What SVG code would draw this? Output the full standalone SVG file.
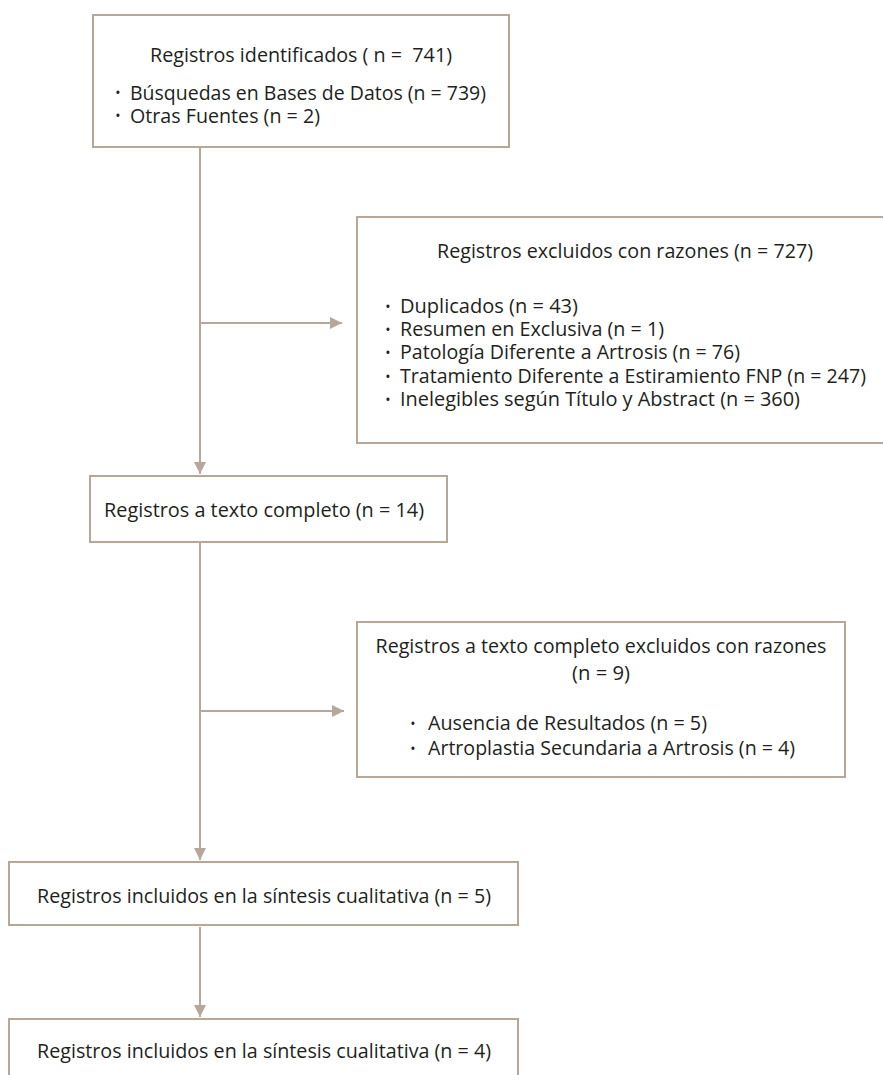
<svg xmlns="http://www.w3.org/2000/svg" width="883" height="1075" viewBox="0 0 883 1075">
  <style>
    .box { fill: #ffffff; stroke: #b8a699; stroke-width: 2; }
    .conn { fill: none; stroke: #b8a699; stroke-width: 2; }
    .t { font-family: "Open Sans", "Liberation Sans", sans-serif; font-size: 20.5px; fill: #231f20; }
    .c { text-anchor: middle; }
    .b { font-family: "Open Sans", "Liberation Sans", sans-serif; font-size: 14px; fill: #231f20; text-anchor: middle; }
  </style>
  <defs>
    <marker id="arrow" markerUnits="userSpaceOnUse" markerWidth="12" markerHeight="12" viewBox="0 0 12 12" refX="12" refY="6" orient="auto">
      <path d="M0,0 L12,6 L0,12 Z" fill="#b8a699"/>
    </marker>
  </defs>
  <rect x="0" y="0" width="883" height="1075" fill="#ffffff"/>

  <g id="connectors">
    <line class="conn" x1="200" y1="147" x2="200" y2="474" marker-end="url(#arrow)"/>
    <line class="conn" x1="200" y1="323" x2="342" y2="323" marker-end="url(#arrow)"/>
    <line class="conn" x1="200" y1="542" x2="200" y2="860" marker-end="url(#arrow)"/>
    <line class="conn" x1="200" y1="711" x2="344" y2="711" marker-end="url(#arrow)"/>
    <line class="conn" x1="200" y1="927" x2="200" y2="1017" marker-end="url(#arrow)"/>
  </g>

  <g id="identificados">
    <rect class="box" x="93" y="15" width="416" height="132"/>
    <text class="t c" x="301" y="62" xml:space="preserve" textLength="302" lengthAdjust="spacingAndGlyphs">Registros identificados ( n =  741)</text>
    <text class="b" x="118" y="98">•</text>
    <text class="t" x="130" y="99.5" textLength="356" lengthAdjust="spacingAndGlyphs">Búsquedas en Bases de Datos (n = 739)</text>
    <text class="b" x="118" y="121">•</text>
    <text class="t" x="130" y="122.5" textLength="190" lengthAdjust="spacingAndGlyphs">Otras Fuentes (n = 2)</text>
  </g>

  <g id="excluidos">
    <rect class="box" x="357" y="217" width="540" height="226"/>
    <text class="t c" x="625" y="258" textLength="376" lengthAdjust="spacingAndGlyphs">Registros excluidos con razones (n = 727)</text>
    <text class="b" x="388" y="312">•</text>
    <text class="t" x="400" y="313" textLength="178" lengthAdjust="spacingAndGlyphs">Duplicados (n = 43)</text>
    <text class="b" x="388" y="335">•</text>
    <text class="t" x="400" y="336" textLength="264" lengthAdjust="spacingAndGlyphs">Resumen en Exclusiva (n = 1)</text>
    <text class="b" x="388" y="358">•</text>
    <text class="t" x="400" y="359" textLength="340" lengthAdjust="spacingAndGlyphs">Patología Diferente a Artrosis (n = 76)</text>
    <text class="b" x="388" y="382">•</text>
    <text class="t" x="400" y="383" textLength="466" lengthAdjust="spacingAndGlyphs">Tratamiento Diferente a Estiramiento FNP (n = 247)</text>
    <text class="b" x="388" y="405">•</text>
    <text class="t" x="400" y="406" textLength="400" lengthAdjust="spacingAndGlyphs">Inelegibles según Título y Abstract (n = 360)</text>
  </g>

  <g id="texto-completo">
    <rect class="box" x="90" y="476" width="357" height="66"/>
    <text class="t c" x="264" y="517" textLength="320" lengthAdjust="spacingAndGlyphs">Registros a texto completo (n = 14)</text>
  </g>

  <g id="texto-completo-excluidos">
    <rect class="box" x="357" y="622" width="488" height="155"/>
    <text class="t c" x="601" y="653" textLength="451" lengthAdjust="spacingAndGlyphs">Registros a texto completo excluidos con razones</text>
    <text class="t c" x="601" y="680" textLength="58" lengthAdjust="spacingAndGlyphs">(n = 9)</text>
    <text class="b" x="413" y="729">•</text>
    <text class="t" x="428" y="730" textLength="279" lengthAdjust="spacingAndGlyphs">Ausencia de Resultados (n = 5)</text>
    <text class="b" x="413" y="754">•</text>
    <text class="t" x="428" y="755" textLength="367" lengthAdjust="spacingAndGlyphs">Artroplastia Secundaria a Artrosis (n = 4)</text>
  </g>

  <g id="incluidos-5">
    <rect class="box" x="9" y="862" width="509" height="63"/>
    <text class="t c" x="264" y="903" textLength="454" lengthAdjust="spacingAndGlyphs">Registros incluidos en la síntesis cualitativa (n = 5)</text>
  </g>

  <g id="incluidos-4">
    <rect class="box" x="9" y="1019" width="509" height="80"/>
    <text class="t c" x="264" y="1058" textLength="454" lengthAdjust="spacingAndGlyphs">Registros incluidos en la síntesis cualitativa (n = 4)</text>
  </g>
</svg>
